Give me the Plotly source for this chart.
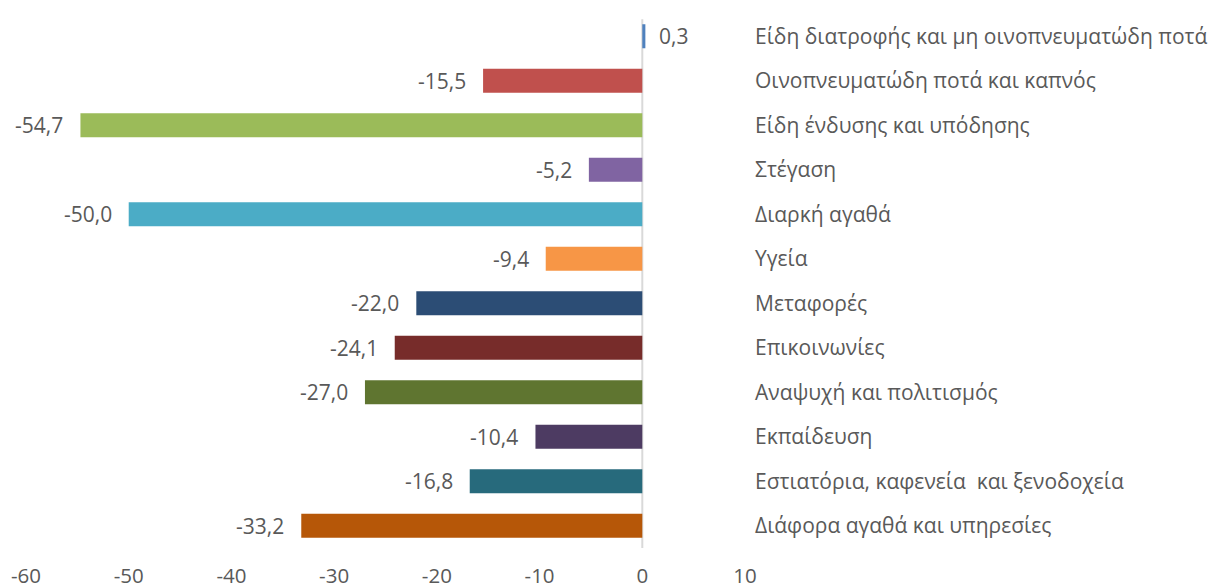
"""Μεταβολή δαπανών ανά κατηγορία — οριζόντιο ραβδόγραμμα."""

import plotly.graph_objects as go

CATEGORIES = [
    "Είδη διατροφής και μη οινοπνευματώδη ποτά",
    "Οινοπνευματώδη ποτά και καπνός",
    "Είδη ένδυσης και υπόδησης",
    "Στέγαση",
    "Διαρκή αγαθά",
    "Υγεία",
    "Μεταφορές",
    "Επικοινωνίες",
    "Αναψυχή και πολιτισμός",
    "Εκπαίδευση",
    "Εστιατόρια, καφενεία  και ξενοδοχεία",
    "Διάφορα αγαθά και υπηρεσίες",
]
VALUES = [0.3, -15.5, -54.7, -5.2, -50.0, -9.4, -22.0, -24.1, -27.0, -10.4, -16.8, -33.2]
BAR_COLORS = [
    "#4f81bd", "#c0504d", "#9bbb59", "#8064a2", "#4bacc6", "#f79646",
    "#2c4d75", "#772c2a", "#5f7530", "#4d3b62", "#276a7c", "#b65708",
]
TICKS = [-60, -50, -40, -30, -20, -10, 0, 10]

FONT = "Open Sans, Arial, sans-serif"
GREY = "#595959"


def _label(value):
    return f"{value:.1f}".replace(".", ",")


fig = go.Figure(
    go.Bar(
        y=CATEGORIES,
        x=VALUES,
        orientation="h",
        marker={"color": BAR_COLORS, "line": {"width": 0}},
        hoverinfo="skip",
    )
)

for cat, val in zip(CATEGORIES, VALUES):
    fig.add_annotation(
        x=val,
        y=cat,
        text=_label(val),
        showarrow=False,
        xanchor="right" if val < 0 else "left",
        xshift=-15 if val < 0 else 12,
        font={"family": FONT, "size": 21, "color": GREY},
    )

# the grey zero line of the value axis
fig.add_shape(
    type="line", xref="x", yref="paper", x0=0, x1=0, y0=0, y1=0.99,
    line={"color": "#d9d9d9", "width": 2}, layer="below",
)

# page body adds 8px margin, so the figure is 8px smaller than the window
fig.update_layout(
    width=1215,
    height=580,
    margin={"l": 17.5, "r": 477.5, "t": 6, "b": 40},
    paper_bgcolor="white",
    plot_bgcolor="white",
    showlegend=False,
    bargap=0.46,
    font={"family": FONT, "size": 21, "color": GREY},
    xaxis={
        "range": [-60, 10],
        "tickvals": TICKS,
        "ticktext": [str(t) for t in TICKS],
        "showgrid": False,
        "zeroline": False,
        "showline": False,
        "ticks": "",
        "automargin": False,
        "ticklabelstandoff": 13,
        "tickfont": {"family": FONT, "size": 20.5, "color": GREY},
    },
    yaxis={
        "autorange": "reversed",
        "side": "right",
        "showgrid": False,
        "zeroline": False,
        "showline": False,
        "ticks": "",
        "automargin": False,
        "ticklabelstandoff": 9,
        "tickfont": {"family": FONT, "size": 21, "color": GREY},
    },
)

fig.write_html("out.html")
